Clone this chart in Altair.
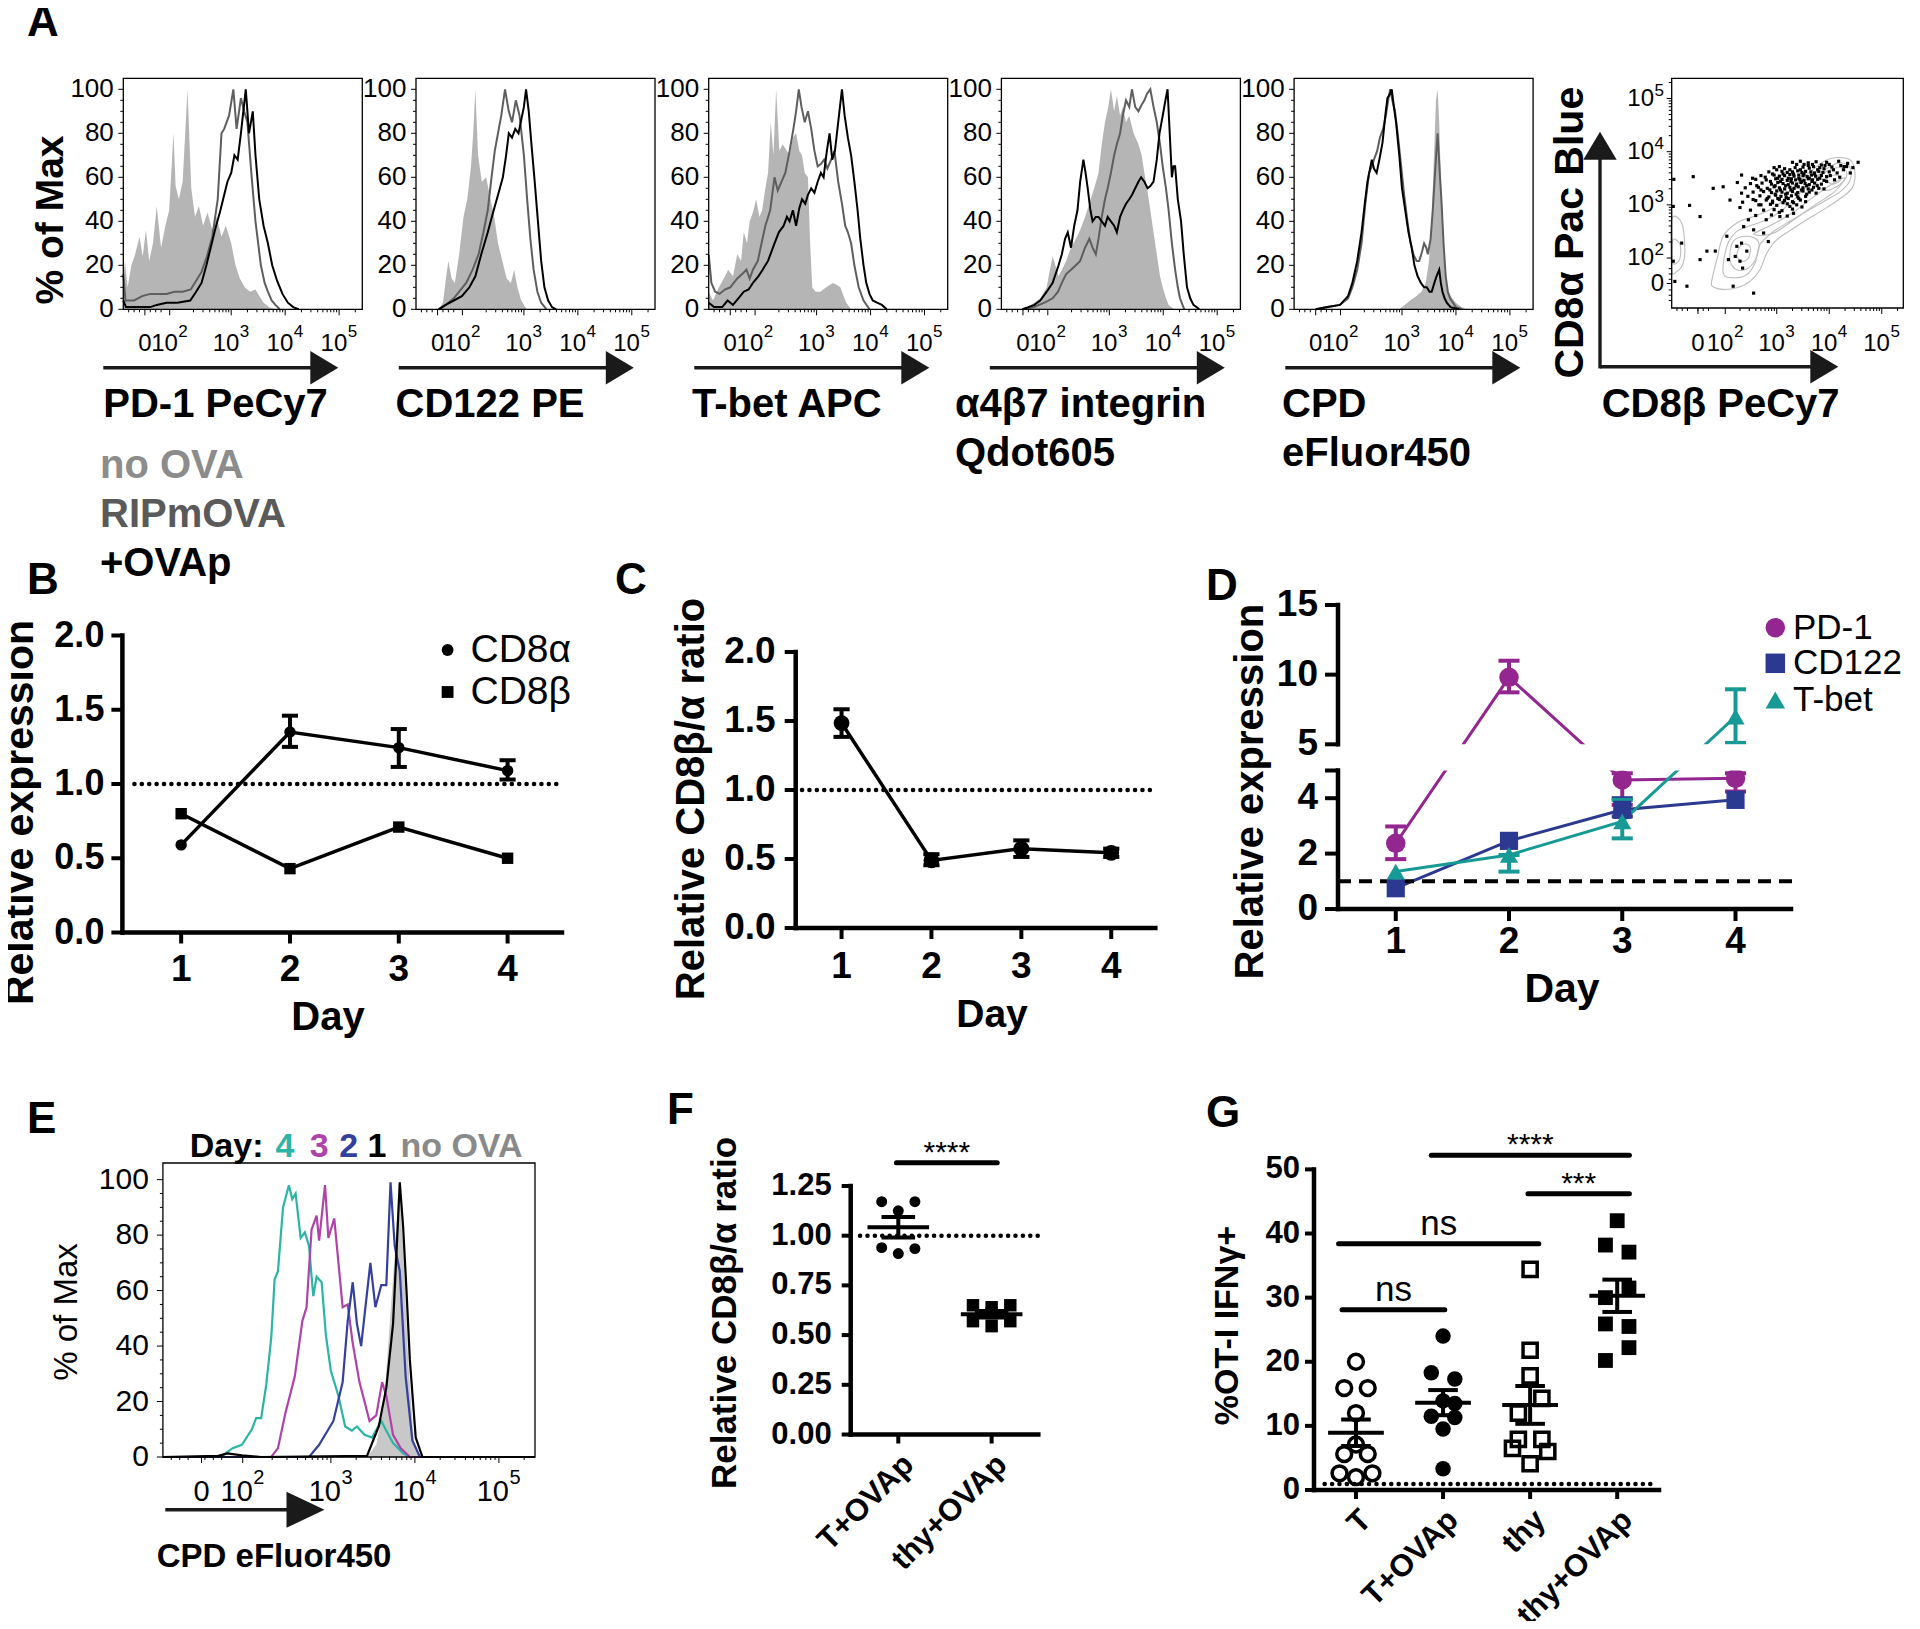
import math
import altair as alt
import pandas as pd

W, H = 1904, 1613


def X(v):
    return v - 8


def Y(v):
    return v - 8


SANS = "Liberation Sans, Arial, Helvetica, sans-serif"
ONE = pd.DataFrame({"k": [0]})

# ------------------------------------------------------------------ data
# A: flow histograms; x in display decades (about 1.4 = 0, 2 = 10^2 ... 5 = 10^5), y = % of max
PD1_NOOVA = [(1.0, 14), (1.03, 22), (1.08, 10), (1.15, 20), (1.22, 25), (1.3, 33), (1.36, 24), (1.42, 36), (1.48, 22),
             (1.55, 30), (1.62, 47), (1.7, 28), (1.78, 38), (1.85, 45), (1.93, 80), (1.97, 56), (2.03, 50), (2.1, 58),
             (2.19, 100), (2.26, 55), (2.33, 42), (2.4, 47), (2.48, 38), (2.56, 44), (2.65, 36), (2.73, 42), (2.82, 33),
             (2.9, 38), (3.0, 30), (3.08, 20), (3.16, 14), (3.25, 10), (3.35, 8), (3.45, 9), (3.52, 6), (3.6, 3),
             (3.7, 1), (3.8, 0)]
PD1_RIP = [(1.0, 16), (1.04, 4), (1.2, 4), (1.35, 6), (1.5, 7), (1.65, 7), (1.8, 7), (1.95, 8), (2.1, 8), (2.25, 9),
           (2.35, 13), (2.45, 17), (2.55, 24), (2.65, 33), (2.75, 50), (2.82, 80), (2.87, 82), (2.96, 88), (3.04, 100),
           (3.1, 82), (3.18, 96), (3.24, 90), (3.3, 85), (3.38, 60), (3.45, 40), (3.55, 20), (3.62, 12), (3.68, 8),
           (3.75, 4), (3.82, 2), (3.9, 0)]
PD1_OVAP = [(1.0, 4), (1.05, 1), (1.3, 1), (1.5, 1), (1.62, 2), (1.8, 3), (2.0, 3), (2.24, 4), (2.35, 8), (2.45, 12),
            (2.54, 20), (2.62, 28), (2.7, 36), (2.8, 45), (2.93, 58), (3.0, 62), (3.06, 70), (3.12, 68), (3.18, 80),
            (3.27, 100), (3.33, 80), (3.4, 90), (3.45, 70), (3.52, 50), (3.6, 38), (3.68, 30), (3.76, 20),
            (3.85, 13), (3.95, 7), (4.05, 3), (4.15, 1), (4.25, 0)]

CD122_NOOVA = [(1.42, 0), (1.5, 3), (1.56, 15), (1.6, 22), (1.66, 14), (1.72, 12), (1.8, 25), (1.88, 42), (1.95, 50),
               (2.02, 65), (2.06, 80), (2.1, 100), (2.15, 70), (2.22, 58), (2.3, 60), (2.38, 50), (2.45, 42),
               (2.52, 30), (2.6, 22), (2.68, 14), (2.76, 12), (2.82, 18), (2.88, 10), (2.95, 4), (3.05, 0)]
CD122_RIP = [(1.42, 0), (1.55, 2), (1.7, 5), (1.8, 8), (1.93, 12), (2.05, 18), (2.16, 25), (2.25, 35), (2.33, 45),
             (2.4, 60), (2.46, 72), (2.52, 80), (2.58, 88), (2.65, 100), (2.72, 90), (2.78, 85), (2.85, 95),
             (2.92, 88), (3.0, 70), (3.06, 50), (3.12, 32), (3.18, 18), (3.25, 8), (3.32, 3), (3.42, 0)]
CD122_OVAP = [(1.42, 0), (1.55, 2), (1.7, 4), (1.85, 6), (1.99, 10), (2.1, 15), (2.21, 25), (2.33, 35), (2.44, 45),
              (2.52, 52), (2.61, 60), (2.67, 70), (2.72, 80), (2.78, 78), (2.84, 82), (2.9, 80), (2.95, 86),
              (3.0, 92), (3.04, 100), (3.09, 90), (3.14, 75), (3.2, 58), (3.26, 40), (3.32, 22), (3.38, 10),
              (3.45, 4), (3.52, 1), (3.6, 0)]

TBET_NOOVA = [(1.0, 8), (1.08, 4), (1.19, 10), (1.28, 14), (1.36, 18), (1.45, 15), (1.53, 25), (1.6, 22), (1.65, 35),
              (1.71, 30), (1.76, 40), (1.82, 44), (1.88, 50), (1.94, 42), (1.99, 45), (2.05, 55), (2.1, 62),
              (2.15, 85), (2.2, 70), (2.25, 100), (2.31, 72), (2.37, 75), (2.45, 72), (2.5, 70), (2.56, 78),
              (2.62, 80), (2.68, 72), (2.73, 70), (2.78, 62), (2.84, 60), (2.88, 30), (2.92, 10), (2.98, 8),
              (3.07, 8), (3.18, 10), (3.3, 12), (3.38, 11), (3.44, 10), (3.5, 6), (3.55, 3), (3.64, 0)]
TBET_RIP = [(1.0, 25), (1.05, 12), (1.12, 8), (1.2, 7), (1.3, 9), (1.4, 10), (1.53, 14), (1.62, 16), (1.7, 18),
            (1.76, 14), (1.82, 18), (1.91, 22), (1.98, 30), (2.05, 38), (2.14, 45), (2.22, 60), (2.28, 54),
            (2.35, 58), (2.42, 62), (2.5, 72), (2.57, 82), (2.62, 90), (2.67, 100), (2.72, 92), (2.78, 85),
            (2.84, 90), (2.9, 82), (2.96, 72), (3.02, 65), (3.08, 66), (3.14, 68), (3.2, 64), (3.27, 68),
            (3.33, 72), (3.4, 58), (3.47, 48), (3.53, 38), (3.58, 35), (3.64, 30), (3.7, 20), (3.78, 10),
            (3.87, 4), (3.98, 0)]
TBET_OVAP = [(1.0, 3), (1.1, 1), (1.25, 1), (1.35, 4), (1.45, 2), (1.55, 5), (1.65, 8), (1.74, 9), (1.82, 12),
             (1.92, 15), (2.0, 18), (2.1, 22), (2.22, 30), (2.3, 35), (2.39, 38), (2.45, 42), (2.5, 40), (2.56, 45),
             (2.62, 38), (2.68, 46), (2.73, 50), (2.79, 48), (2.84, 52), (2.9, 55), (2.96, 53), (3.02, 58),
             (3.08, 62), (3.13, 60), (3.19, 72), (3.24, 80), (3.29, 68), (3.34, 72), (3.4, 85), (3.47, 100),
             (3.52, 88), (3.58, 78), (3.64, 70), (3.7, 58), (3.76, 45), (3.81, 32), (3.87, 20), (3.92, 12),
             (3.98, 7), (4.04, 4), (4.12, 3), (4.21, 2), (4.3, 0)]

A4B7_NOOVA = [(1.39, 0), (1.5, 1), (1.61, 3), (1.72, 5), (1.84, 10), (1.9, 18), (1.95, 24), (2.0, 20), (2.06, 15),
              (2.12, 18), (2.2, 22), (2.29, 28), (2.38, 32), (2.46, 36), (2.55, 42), (2.63, 48), (2.72, 55),
              (2.8, 62), (2.86, 75), (2.92, 85), (2.98, 92), (3.03, 100), (3.09, 90), (3.14, 97), (3.2, 88),
              (3.25, 92), (3.31, 85), (3.37, 88), (3.45, 80), (3.54, 75), (3.6, 70), (3.65, 62), (3.7, 55),
              (3.76, 45), (3.82, 35), (3.88, 25), (3.94, 15), (3.99, 10), (4.05, 5), (4.1, 2), (4.2, 0)]
A4B7_RIP = [(1.39, 0), (1.6, 1), (1.8, 3), (1.95, 5), (2.05, 8), (2.12, 12), (2.2, 16), (2.29, 18), (2.38, 20),
            (2.46, 22), (2.55, 28), (2.63, 32), (2.69, 28), (2.75, 25), (2.8, 32), (2.86, 42), (2.92, 50),
            (2.97, 55), (3.03, 62), (3.09, 70), (3.14, 75), (3.2, 80), (3.25, 88), (3.31, 95), (3.37, 92),
            (3.42, 100), (3.48, 92), (3.54, 90), (3.6, 93), (3.65, 95), (3.7, 98), (3.76, 100), (3.82, 92),
            (3.88, 85), (3.94, 75), (3.99, 65), (4.05, 55), (4.1, 45), (4.16, 30), (4.22, 18), (4.27, 10),
            (4.31, 5), (4.39, 0)]
A4B7_OVAP = [(1.39, 0), (1.5, 1), (1.61, 2), (1.72, 4), (1.84, 8), (1.95, 12), (2.06, 20), (2.12, 25), (2.18, 32),
             (2.23, 35), (2.29, 28), (2.35, 38), (2.41, 45), (2.46, 58), (2.52, 68), (2.56, 62), (2.6, 55),
             (2.65, 45), (2.69, 40), (2.75, 42), (2.8, 42), (2.86, 40), (2.92, 38), (2.97, 42), (3.03, 40),
             (3.09, 38), (3.14, 35), (3.2, 42), (3.25, 45), (3.31, 48), (3.37, 50), (3.42, 52), (3.48, 55),
             (3.54, 58), (3.59, 60), (3.65, 58), (3.71, 55), (3.76, 56), (3.82, 58), (3.88, 68), (3.93, 80),
             (3.99, 88), (4.04, 95), (4.08, 100), (4.12, 80), (4.16, 60), (4.19, 65), (4.22, 65), (4.27, 50),
             (4.33, 40), (4.38, 25), (4.44, 10), (4.5, 5), (4.56, 2), (4.67, 0)]

CPD_NOOVA = [(2.95, 0), (3.05, 2), (3.15, 4), (3.27, 6), (3.36, 8), (3.44, 12), (3.5, 22), (3.55, 40), (3.6, 75),
             (3.63, 95), (3.66, 100), (3.69, 85), (3.72, 60), (3.76, 30), (3.8, 15), (3.86, 8), (3.93, 5),
             (4.0, 3), (4.1, 1), (4.2, 0)]
CPD_RIP = [(1.4, 0), (1.62, 1), (1.85, 2), (2.0, 5), (2.08, 10), (2.17, 18), (2.25, 30), (2.32, 48), (2.39, 62),
           (2.44, 65), (2.48, 68), (2.54, 72), (2.59, 78), (2.65, 82), (2.7, 88), (2.75, 96), (2.78, 100),
           (2.82, 95), (2.87, 90), (2.92, 80), (2.98, 66), (3.04, 52), (3.1, 40), (3.16, 30), (3.21, 25),
           (3.27, 22), (3.32, 22), (3.37, 26), (3.41, 30), (3.45, 28), (3.48, 25), (3.53, 32), (3.57, 45),
           (3.62, 65), (3.66, 80), (3.7, 62), (3.73, 50), (3.77, 30), (3.81, 15), (3.85, 8), (3.89, 5), (4.0, 1),
           (4.12, 0)]
CPD_OVAP = [(1.4, 0), (1.62, 1), (1.85, 2), (2.0, 6), (2.08, 12), (2.17, 22), (2.25, 35), (2.31, 48), (2.36, 58),
            (2.44, 68), (2.48, 64), (2.53, 62), (2.58, 68), (2.64, 76), (2.69, 88), (2.73, 96), (2.78, 98),
            (2.81, 100), (2.85, 92), (2.89, 85), (2.95, 70), (3.0, 55), (3.06, 45), (3.12, 35), (3.18, 28),
            (3.23, 20), (3.29, 15), (3.35, 12), (3.41, 10), (3.46, 10), (3.51, 8), (3.55, 8), (3.6, 12),
            (3.64, 15), (3.69, 18), (3.72, 12), (3.75, 8), (3.79, 5), (3.83, 3), (3.9, 1), (4.06, 0)]

# A: CD8beta (x) vs CD8alpha (y) plot, display decades
SCATTER_DOTS = [
    (3.30, 3.80), (3.45, 3.82), (3.60, 3.79), (3.75, 3.81), (3.95, 3.80), (4.35, 3.78), (4.55, 3.80),
    (2.95, 3.70), (3.05, 3.72), (3.35, 3.70), (3.50, 3.71), (3.62, 3.69), (3.70, 3.72), (3.82, 3.70), (3.90, 3.68),
    (4.05, 3.71), (4.45, 3.70), (2.85, 3.62), (3.10, 3.63), (3.20, 3.61), (3.30, 3.62), (3.40, 3.64), (3.48, 3.61),
    (3.55, 3.63), (3.65, 3.62), (3.72, 3.60), (3.80, 3.63), (3.88, 3.61), (4.00, 3.62), (4.15, 3.60),
    (2.70, 3.55), (2.95, 3.56), (3.05, 3.54), (3.15, 3.55), (3.25, 3.57), (3.33, 3.54), (3.42, 3.56), (3.50, 3.55),
    (3.58, 3.53), (3.66, 3.56), (3.74, 3.54), (3.85, 3.55), (3.95, 3.53), (2.60, 3.48), (2.80, 3.47), (2.98, 3.49),
    (3.10, 3.48), (3.20, 3.46), (3.28, 3.49), (3.36, 3.47), (3.44, 3.48), (3.52, 3.46), (3.60, 3.49), (3.68, 3.47),
    (3.78, 3.48), (3.90, 3.46), (4.10, 3.47), (2.50, 3.40), (2.72, 3.41), (2.90, 3.39), (3.02, 3.42), (3.12, 3.40),
    (3.22, 3.38), (3.30, 3.41), (3.38, 3.39), (3.46, 3.42), (3.54, 3.40), (3.62, 3.38), (3.72, 3.41), (3.85, 3.39),
    (2.40, 3.32), (2.65, 3.33), (2.82, 3.31), (2.95, 3.34), (3.05, 3.32), (3.15, 3.30), (3.25, 3.33), (3.33, 3.31),
    (3.41, 3.34), (3.50, 3.32), (3.60, 3.30), (3.70, 3.33), (3.80, 3.31), (2.55, 3.24), (2.75, 3.25), (2.90, 3.23),
    (3.00, 3.26), (3.10, 3.24), (3.20, 3.22), (3.30, 3.25), (3.40, 3.23), (3.50, 3.26), (3.62, 3.24),
    (2.45, 3.16), (2.68, 3.17), (2.85, 3.15), (2.98, 3.18), (3.08, 3.16), (3.18, 3.14), (3.28, 3.17), (3.40, 3.15),
    (3.55, 3.16), (2.60, 3.08), (2.80, 3.09), (2.92, 3.07), (3.05, 3.10), (3.15, 3.08), (3.30, 3.06), (3.45, 3.09),
    (2.70, 3.00), (2.88, 3.01), (3.00, 2.99), (3.20, 3.02), (3.38, 3.00), (2.75, 2.90), (2.95, 2.91), (3.10, 2.89),
    (3.30, 2.92), (2.60, 2.80), (2.90, 2.81), (3.20, 2.79),
    (2.92, 3.58), (3.02, 3.50), (3.12, 3.58), (3.22, 3.50), (3.32, 3.58), (3.42, 3.50), (3.52, 3.58), (3.62, 3.50),
    (3.72, 3.58), (3.82, 3.50), (2.97, 3.36), (3.07, 3.44), (3.17, 3.36), (3.27, 3.44), (3.37, 3.36), (3.47, 3.44),
    (3.57, 3.36), (3.67, 3.44), (3.77, 3.36), (2.87, 3.28), (2.97, 3.20), (3.07, 3.28), (3.17, 3.20), (3.27, 3.28),
    (3.37, 3.20), (3.47, 3.28), (3.57, 3.20), (3.67, 3.28), (2.82, 3.12), (2.92, 3.04), (3.02, 3.12), (3.12, 3.04),
    (3.22, 3.12), (3.32, 3.04), (3.42, 3.12), (3.25, 3.66), (3.45, 3.66), (3.60, 3.74), (3.78, 3.66), (3.92, 3.74),
    (4.08, 3.66), (4.22, 3.74),
    (3.00, 3.66), (3.15, 3.68), (3.38, 3.76), (3.52, 3.76), (3.68, 3.76), (3.85, 3.75), (4.00, 3.76), (4.18, 3.82),
    (4.28, 3.72), (4.40, 3.60), (2.78, 3.52), (2.88, 3.44), (3.95, 3.44), (4.02, 3.55), (4.20, 3.52), (2.62, 3.36),
    (2.70, 3.28), (3.90, 3.30), (3.75, 3.22), (2.55, 3.10), (2.66, 3.00), (3.55, 3.06), (3.48, 2.96), (2.80, 2.72),
    (3.05, 2.86), (2.50, 2.90), (2.35, 3.05), (2.25, 3.42), (2.30, 2.95),
    (1.04, 3.48), (1.03, 2.97), (1.03, 1.94), (1.06, 1.56), (1.19, 2.28), (1.29, 1.47), (1.34, 2.99), (1.41, 3.53),
    (1.54, 2.78), (1.54, 1.97), (1.67, 2.13), (1.83, 2.13), (1.79, 3.31), (1.98, 3.34), (2.11, 3.09), (2.17, 1.47),
    (2.33, 3.56), (2.33, 3.22), (2.37, 2.59), (2.33, 2.28), (2.30, 1.94), (2.43, 2.13), (2.35, 1.81), (2.56, 1.34),
    (2.54, 3.50), (2.46, 2.72), (2.56, 2.53), (2.75, 2.47), (2.84, 2.31), (2.08, 1.97), (2.24, 2.22), (2.21, 2.03),
    (2.05, 2.41), (3.06, 2.78), (3.32, 2.84), (3.25, 2.97), (4.27, 3.66), (4.33, 3.72)]
SCATTER_CONTOURS = [
    [(1.76, 1.56), (1.86, 1.97), (1.98, 2.41), (2.24, 2.66), (2.56, 2.78), (2.81, 2.88), (3.06, 3.03), (3.32, 3.34),
     (3.60, 3.59), (3.89, 3.81), (4.14, 3.89), (4.40, 3.84), (4.49, 3.59), (4.43, 3.31), (4.17, 3.09), (3.89, 2.91),
     (3.57, 2.72), (3.32, 2.56), (3.00, 2.34), (2.81, 2.09), (2.68, 1.78), (2.49, 1.56), (2.24, 1.44), (1.98, 1.41),
     (1.79, 1.46)],
    [(1.98, 1.72), (2.05, 2.22), (2.24, 2.50), (2.56, 2.63), (2.87, 2.75), (3.19, 2.97), (3.51, 3.28), (3.83, 3.59),
     (4.14, 3.78), (4.38, 3.73), (4.40, 3.47), (4.21, 3.25), (3.89, 3.06), (3.57, 2.88), (3.25, 2.69), (2.94, 2.50),
     (2.68, 2.25), (2.59, 1.91), (2.43, 1.69), (2.17, 1.63)],
    [(2.56, 2.45), (2.90, 2.62), (3.30, 2.85), (3.70, 3.15), (4.10, 3.42), (4.30, 3.50), (4.10, 3.25), (3.70, 2.98),
     (3.30, 2.70), (2.90, 2.45)],
    [(2.11, 1.97), (2.17, 2.31), (2.43, 2.41), (2.65, 2.31), (2.62, 2.03), (2.46, 1.81), (2.24, 1.78)],
    [(2.24, 2.06), (2.33, 2.25), (2.49, 2.22), (2.46, 2.00), (2.33, 1.94)],
    [(3.76, 3.47), (4.02, 3.66), (4.27, 3.69), (4.33, 3.53), (4.14, 3.34), (3.89, 3.28)],
    [(3.95, 3.50), (4.14, 3.56), (4.21, 3.46), (4.05, 3.39)],
    [(1.00, 2.72), (1.19, 2.66), (1.25, 2.22), (1.22, 1.91), (1.10, 1.75), (1.00, 1.78)],
    [(1.02, 2.34), (1.16, 2.25), (1.15, 1.97), (1.02, 1.91)]]

# B: relative expression vs day
DAYS = [1, 2, 3, 4]
B_CD8A = [0.59, 1.35, 1.245, 1.09]
B_CD8A_LO = [0.59, 1.25, 1.115, 1.03]
B_CD8A_HI = [0.59, 1.46, 1.37, 1.16]
B_CD8B = [0.80, 0.43, 0.71, 0.50]
# C: CD8beta/alpha ratio vs day
C_RATIO = [1.485, 0.49, 0.575, 0.545]
C_LO = [1.385, 0.455, 0.515, 0.515]
C_HI = [1.585, 0.535, 0.635, 0.575]
# D: PD-1, CD122, T-bet vs day
D_PD1 = [2.37, 9.81, 4.66, 4.72]
D_PD1_LO = [1.80, 8.73, 3.76, 4.24]
D_PD1_HI = [2.98, 11.0, 4.90, 4.90]
D_CD122 = [0.75, 2.46, 3.58, 3.94]
D_CD122_LO = [0.75, 2.46, 3.34, 3.94]
D_CD122_HI = [0.75, 2.46, 4.00, 3.94]
D_TBET = [1.35, 1.95, 3.16, 6.99]
D_TBET_LO = [1.35, 1.35, 2.55, 5.10]
D_TBET_HI = [1.35, 1.95, 3.94, 8.95]

# E: CPD dilution histograms per day
E_DAY4 = [(1.0, 0), (1.69, 0), (1.83, 3.2), (1.94, 4.4), (2.06, 10), (2.11, 14), (2.17, 14), (2.23, 26), (2.29, 43),
          (2.33, 64), (2.37, 67), (2.43, 90), (2.5, 98), (2.54, 93), (2.58, 95), (2.64, 79), (2.69, 81), (2.74, 76),
          (2.79, 58), (2.83, 65), (2.89, 63), (2.94, 44), (3.0, 31), (3.09, 22), (3.17, 11), (3.25, 9.5),
          (3.31, 11), (3.4, 8), (3.49, 7), (3.6, 13), (3.66, 9.5), (3.74, 5), (3.86, 1.3), (3.94, 0), (5.43, 0)]
E_DAY3 = [(1.0, 0), (2.29, 0), (2.37, 3.2), (2.46, 16), (2.57, 29), (2.66, 49), (2.71, 54), (2.77, 82), (2.83, 87),
          (2.86, 78), (2.93, 98), (2.97, 79), (3.04, 86), (3.09, 70), (3.14, 54), (3.2, 55), (3.26, 41), (3.34, 27),
          (3.46, 13), (3.54, 15), (3.61, 27), (3.66, 22), (3.74, 8), (3.83, 3.2), (3.94, 0), (5.43, 0)]
E_DAY2 = [(1.0, 0), (2.74, 0), (2.86, 4.4), (3.03, 13), (3.14, 27), (3.2, 49), (3.26, 63), (3.31, 48), (3.36, 40),
          (3.4, 51), (3.47, 70), (3.53, 54), (3.6, 62), (3.66, 62), (3.71, 99), (3.76, 76), (3.82, 67), (3.89, 29),
          (3.97, 6), (4.06, 0), (5.43, 0)]
E_DAY1 = [(1.0, 0), (1.66, 0.4), (1.77, 1.3), (1.94, 0.6), (2.17, 0), (3.43, 0.4), (3.57, 11), (3.66, 25),
          (3.74, 48), (3.78, 73), (3.82, 99), (3.86, 83), (3.9, 60), (3.94, 35), (4.01, 7), (4.09, 0), (5.43, 0)]
E_NOOVA = [(3.43, 0), (3.54, 4.4), (3.63, 18), (3.7, 48), (3.76, 73), (3.81, 98), (3.86, 76), (3.92, 35),
           (3.99, 4.4), (4.06, 0)]

# F: CD8beta/alpha ratio per group (slot = side-by-side place of the dot in its column)
F_T_OVAP = [1.171, 1.171, 1.125, 0.940, 0.935, 0.910]
F_T_OVAP_SLOT = [-1, 1, 0, -1, 1, 0]
F_THY_OVAP = [0.650, 0.650, 0.640, 0.610, 0.570, 0.570, 0.545]
F_THY_OVAP_SLOT = [-1, 1, 0, 0, -1, 1, 0]
F_LABELS = ["T+OVAp", "thy+OVAp"]

# G: % OT-I IFNg+ per group
G_T = [20.0, 15.9, 15.9, 12.0, 7.1, 5.6, 5.6, 2.6, 2.6, 2.0]
G_T_SLOT = [0, -1, 1, 0, 0, -1, 1, -1.4, 1.4, 0]
G_T_OVAP = [24.0, 18.3, 17.3, 13.9, 13.5, 11.5, 11.3, 9.5, 3.3]
G_T_OVAP_SLOT = [0, -1, 1, 0, 1, -1, 1, 0, 0]
G_THY = [34.4, 21.8, 17.8, 14.3, 12.0, 7.9, 7.9, 6.5, 6.0, 4.1]
G_THY_SLOT = [0, 0, 0, 1, -1, -1, 1, -1.5, 1.5, 0]
G_THY_OVAP = [42.0, 38.2, 37.1, 31.5, 30.0, 25.9, 25.5, 22.2, 20.2]
G_THY_OVAP_SLOT = [0, -1, 1, 1, -1, -1, 1, 1, -1]
G_LABELS = ["T", "T+OVAp", "thy", "thy+OVAp"]
G_SIG = [(0.84, 2.02, 28.1, "ns"), (0.80, 3.10, 38.4, "ns"), (1.865, 4.14, 52.2, "****"), (2.975, 4.14, 46.2, "***")]
F_SIG = [(0.98, 2.06, 1.367, "****")]

# tick labels
DECADE_EXPONENTS = ["2", "3", "4", "5"]
FLOW_Y_TICKS = [0, 20, 40, 60, 80, 100]


# ------------------------------------------------------------------ helpers
def curve_df(pts):
    return pd.DataFrame({"u": [p[0] for p in pts], "p": [p[1] for p in pts], "z": [0] * len(pts),
                         "i": list(range(len(pts)))})


def sx(domain, a, b):
    return alt.Scale(domain=domain, range=[X(a), X(b)], nice=False, zero=False)


def sy(domain, bottom, top):
    return alt.Scale(domain=domain, range=[Y(bottom), Y(top)], nice=False, zero=False)


def txt(s, x, y, size, weight="bold", color="black", font=SANS, align="left", baseline="alphabetic", angle=0):
    return alt.Chart(ONE).mark_text(text=s, font=font, fontSize=size, fontWeight=weight, color=color,
                                    align=align, baseline=baseline, angle=angle).encode(
        x=alt.value(X(x)), y=alt.value(Y(y)))


def vtitle(s, x, y, size, weight="bold"):
    return txt(s, x, y, size, weight=weight, align="center", baseline="middle", angle=270)


def harrow(x0, tip, y, head_len=28.0, half=16.7, lw=3.4):
    a = head_len / (2 * half)
    path = "M %.3f -1 L %.3f 0 L %.3f 1 Z" % (-a, a, -a)
    line = alt.Chart(ONE).mark_rule(color="#1a1a1a", strokeWidth=lw).encode(
        x=alt.value(X(x0)), x2=alt.value(X(tip - head_len + 2)), y=alt.value(Y(y)))
    head = alt.Chart(ONE).mark_point(shape=path, filled=True, size=(2 * half) ** 2, color="#1a1a1a",
                                     opacity=1, strokeWidth=0).encode(
        x=alt.value(X(tip - head_len / 2)), y=alt.value(Y(y)))
    return [line, head]


def varrow(x, y0, tip, head_len=28.0, half=16.7, lw=3.4):
    a = head_len / (2 * half)
    path = "M -1 %.3f L 0 %.3f L 1 %.3f Z" % (a, -a, a)
    line = alt.Chart(ONE).mark_rule(color="#1a1a1a", strokeWidth=lw).encode(
        x=alt.value(X(x)), y=alt.value(Y(y0 + lw / 2)), y2=alt.value(Y(tip + head_len - 2)))
    head = alt.Chart(ONE).mark_point(shape=path, filled=True, size=(2 * half) ** 2, color="#1a1a1a",
                                     opacity=1, strokeWidth=0).encode(
        x=alt.value(X(x)), y=alt.value(Y(tip + head_len / 2)))
    return [line, head]


def yticks(ys, axis_x, major, tick, tw, minor=None, mtick=3):
    out = [alt.Chart(pd.DataFrame({"v": major})).mark_rule(color="black", strokeWidth=tw).encode(
        y=alt.Y("v:Q", scale=ys, axis=None), x=alt.value(X(axis_x - tick)), x2=alt.value(X(axis_x)))]
    if minor:
        out.append(alt.Chart(pd.DataFrame({"v": minor})).mark_rule(color="black", strokeWidth=tw).encode(
            y=alt.Y("v:Q", scale=ys, axis=None), x=alt.value(X(axis_x - mtick)), x2=alt.value(X(axis_x))))
    return out


def xticks(xs, axis_y, major, tick, tw, minor=None, mtick=3):
    out = [alt.Chart(pd.DataFrame({"v": major})).mark_rule(color="black", strokeWidth=tw).encode(
        x=alt.X("v:Q", scale=xs, axis=None), y=alt.value(Y(axis_y)), y2=alt.value(Y(axis_y + tick)))]
    if minor:
        out.append(alt.Chart(pd.DataFrame({"v": minor})).mark_rule(color="black", strokeWidth=tw).encode(
            x=alt.X("v:Q", scale=xs, axis=None), y=alt.value(Y(axis_y)), y2=alt.value(Y(axis_y + mtick))))
    return out


def yaxis(ys, axis_x, major, labels, size, pad, tick, tw, weight="bold", minor=None, mtick=3,
          domain=None, dw=4.5):
    df = pd.DataFrame({"v": major, "lab": labels})
    out = yticks(ys, axis_x, major, tick, tw, minor, mtick)
    out.append(alt.Chart(df[df["lab"] != ""]).mark_text(
        align="right", baseline="middle", font=SANS, fontSize=size, fontWeight=weight, color="black").encode(
        y=alt.Y("v:Q", scale=ys, axis=None), x=alt.value(X(axis_x - tick - pad)), text="lab:N"))
    if domain is not None:
        out.append(alt.Chart(ONE).mark_rule(color="black", strokeWidth=dw, strokeCap="square").encode(
            x=alt.value(X(axis_x)), y=alt.YDatum(domain[0], scale=ys, axis=None), y2=alt.Y2Datum(domain[1])))
    return out


def xaxis(xs, axis_y, major, labels, size, pad, tick, tw, weight="bold", domain=None, dw=4.5, angle=0):
    df = pd.DataFrame({"v": major, "lab": labels})
    out = xticks(xs, axis_y, major, tick, tw)
    if angle:
        tm = alt.Chart(df).mark_text(
            align="right", baseline="top", angle=angle, font=SANS, fontSize=size, fontWeight=weight, color="black")
    else:
        tm = alt.Chart(df).mark_text(
            align="center", baseline="top", font=SANS, fontSize=size, fontWeight=weight, color="black")
    out.append(tm.encode(x=alt.X("v:Q", scale=xs, axis=None), y=alt.value(Y(axis_y + tick + pad)), text="lab:N"))
    if domain is not None:
        out.append(alt.Chart(ONE).mark_rule(color="black", strokeWidth=dw, strokeCap="square").encode(
            y=alt.value(Y(axis_y)), x=alt.XDatum(domain[0], scale=xs, axis=None), x2=alt.X2Datum(domain[1])))
    return out


def decade_xlabels(xs, top, zero_at, ten_at, size, sup, raise_px):
    """'0' and 10^n labels under a flow axis, exponent drawn as a raised smaller number."""
    shift = 0.556 * sup / 2 + 0.5
    zero = alt.Chart(pd.DataFrame({"v": [zero_at], "lab": ["0"]})).mark_text(
        align="center", baseline="top", font=SANS, fontSize=size, color="black").encode(
        x=alt.X("v:Q", scale=xs, axis=None), y=alt.value(Y(top)), text="lab:N")
    df = pd.DataFrame({"v": ten_at, "e": DECADE_EXPONENTS})
    base = alt.Chart(df).mark_text(text="10", align="center", baseline="top", font=SANS, fontSize=size,
                                   color="black", dx=-shift).encode(
        x=alt.X("v:Q", scale=xs, axis=None), y=alt.value(Y(top)))
    expo = alt.Chart(df).mark_text(align="left", baseline="top", font=SANS, fontSize=sup, color="black",
                                   dx=1.112 * size / 2 - shift + 0.5).encode(
        x=alt.X("v:Q", scale=xs, axis=None), y=alt.value(Y(top - raise_px)), text="e:N")
    return [zero, base, expo]


def decade_ylabels(ys, right, zero_at, ten_at, size, sup, raise_px):
    supw = 0.556 * sup + 0.5
    zero = alt.Chart(pd.DataFrame({"v": [zero_at], "lab": ["0"]})).mark_text(
        align="right", baseline="middle", font=SANS, fontSize=size, color="black").encode(
        y=alt.Y("v:Q", scale=ys, axis=None), x=alt.value(X(right)), text="lab:N")
    df = pd.DataFrame({"v": ten_at, "e": DECADE_EXPONENTS})
    base = alt.Chart(df).mark_text(text="10", align="right", baseline="middle", font=SANS, fontSize=size,
                                   color="black").encode(
        y=alt.Y("v:Q", scale=ys, axis=None), x=alt.value(X(right - supw)))
    expo = alt.Chart(df).mark_text(align="right", baseline="middle", font=SANS, fontSize=sup, color="black",
                                   dy=-raise_px).encode(
        y=alt.Y("v:Q", scale=ys, axis=None), x=alt.value(X(right)), text="e:N")
    return [zero, base, expo]


FLOW_MINOR = [1.1, 1.2, 1.3, 1.5, 1.6, 1.7] + \
    [round(d + math.log10(k), 4) for d in (2, 3, 4) for k in range(2, 10)] + [round(5 + math.log10(2), 4)]
FLOW_Y_MINOR = [v for v in range(5, 100, 5) if v % 20 != 0]


def frame(xs, ys, xd, yd):
    return alt.Chart(ONE).mark_rect(filled=False, color="black", strokeWidth=1.3).encode(
        x=alt.XDatum(xd[0], scale=xs, axis=None), x2=alt.X2Datum(xd[1]),
        y=alt.YDatum(yd[0], scale=ys, axis=None), y2=alt.Y2Datum(yd[1]))


def series_parts(days, val, lo, hi, xs, ys, color, shape, size, cap, lw, ew=4):
    df = pd.DataFrame({"d": days, "v": val, "lo": lo, "hi": hi})
    base = alt.Chart(df)
    line = base.mark_line(color=color, strokeWidth=lw).encode(
        x=alt.X("d:Q", scale=xs, axis=None), y=alt.Y("v:Q", scale=ys, axis=None))
    errd = base.transform_filter("datum.hi > datum.lo + 0.001")
    err = errd.mark_rule(color=color, strokeWidth=ew).encode(
        x=alt.X("d:Q", scale=xs, axis=None), y=alt.Y("lo:Q", scale=ys, axis=None), y2="hi:Q")
    caps = errd.transform_fold(["lo", "hi"], as_=["k", "e"]).transform_calculate(
        c1="datum.d - %g" % cap, c2="datum.d + %g" % cap).mark_rule(color=color, strokeWidth=ew).encode(
        x=alt.X("c1:Q", scale=xs, axis=None), x2="c2:Q", y=alt.Y("e:Q", scale=ys, axis=None))
    pts = base.mark_point(shape=shape, filled=True, size=size, color=color, opacity=1, strokeWidth=0).encode(
        x=alt.X("d:Q", scale=xs, axis=None), y=alt.Y("v:Q", scale=ys, axis=None))
    return line, err, caps, pts


def group_df(groups):
    rows = []
    for idx, (vals, slots) in enumerate(groups, start=1):
        for v, s in zip(vals, slots):
            rows.append({"idx": idx, "v": v, "slot": s})
    return pd.DataFrame(rows)


def dots(df, idx, xs, ys, shape, filled, size, w, sw=3.5):
    return alt.Chart(df).transform_filter("datum.idx == %d" % idx).transform_calculate(
        pos="datum.idx + datum.slot * %g" % w).mark_point(
        shape=shape, filled=filled, size=size, color="black", opacity=1,
        strokeWidth=(0 if filled else sw)).encode(
        x=alt.X("pos:Q", scale=xs, axis=None), y=alt.Y("v:Q", scale=ys, axis=None))


def mean_sem(df, xs, ys, half_mean, half_cap, lw=4):
    agg = alt.Chart(df).transform_aggregate(m="mean(v)", s="stderr(v)", groupby=["idx"]).transform_calculate(
        lo="datum.m - datum.s", hi="datum.m + datum.s",
        a="datum.idx - %g" % half_mean, b="datum.idx + %g" % half_mean,
        c="datum.idx - %g" % half_cap, e="datum.idx + %g" % half_cap)
    out = [agg.mark_rule(color="black", strokeWidth=lw).encode(
        x=alt.X("a:Q", scale=xs, axis=None), x2="b:Q", y=alt.Y("m:Q", scale=ys, axis=None)),
        agg.mark_rule(color="black", strokeWidth=lw).encode(
        x=alt.X("idx:Q", scale=xs, axis=None), y=alt.Y("lo:Q", scale=ys, axis=None), y2="hi:Q")]
    for f in ("lo", "hi"):
        out.append(agg.mark_rule(color="black", strokeWidth=lw).encode(
            x=alt.X("c:Q", scale=xs, axis=None), x2="e:Q", y=alt.Y(f + ":Q", scale=ys, axis=None)))
    return out


def sig_layers(sig, xs, ys, ns_size=35, star_size=30):
    df = pd.DataFrame({"x1": [s[0] for s in sig], "x2": [s[1] for s in sig], "y": [s[2] for s in sig],
                       "lab": [s[3] for s in sig]})
    base = alt.Chart(df).transform_calculate(mid="(datum.x1 + datum.x2) / 2")
    bar = base.mark_rule(color="black", strokeWidth=5, strokeCap="round").encode(
        x=alt.X("x1:Q", scale=xs, axis=None), x2="x2:Q", y=alt.Y("y:Q", scale=ys, axis=None))
    ns = base.transform_filter("datum.lab == 'ns'").mark_text(
        font=SANS, fontSize=ns_size, baseline="alphabetic", dy=-9, color="black").encode(
        x=alt.X("mid:Q", scale=xs, axis=None), y=alt.Y("y:Q", scale=ys, axis=None), text="lab:N")
    st = base.transform_filter("datum.lab != 'ns'").mark_text(
        font=SANS, fontSize=star_size, baseline="alphabetic", dy=-1, color="black").encode(
        x=alt.X("mid:Q", scale=xs, axis=None), y=alt.Y("y:Q", scale=ys, axis=None), text="lab:N")
    return [bar, ns, st]


def dotted(xs, ys, x1, x2, yv, dash=(0.1, 7.3), width=4.5):
    return alt.Chart(ONE).mark_rule(strokeDash=list(dash), strokeCap="round", strokeWidth=width,
                                    color="black").encode(
        x=alt.XDatum(x1, scale=xs, axis=None), x2=alt.X2Datum(x2), y=alt.YDatum(yv, scale=ys, axis=None))


def fmt(vals, f):
    return [format(v, f) for v in vals]


layers = []

# ------------------------------------------------------------------ A: histograms
FLOW_LEFTS = [123.3, 416.0, 708.7, 1001.4, 1294.1]
FLOW_W = 239.0
FLOW_TOP, FLOW_BOT = 78.3, 309.3
FLOW_XD = [1.0, 5.43]
FLOW_YD = [0, 105]
FLOW_TEN = [1.86, 3, 4, 5]
FLOW_SETS = [
    (PD1_NOOVA, PD1_RIP, PD1_OVAP),
    (CD122_NOOVA, CD122_RIP, CD122_OVAP),
    (TBET_NOOVA, TBET_RIP, TBET_OVAP),
    (A4B7_NOOVA, A4B7_RIP, A4B7_OVAP),
    (CPD_NOOVA, CPD_RIP, CPD_OVAP),
]
for i, (fill_pts, rip_pts, ovap_pts) in enumerate(FLOW_SETS):
    left = FLOW_LEFTS[i]
    xs = sx(FLOW_XD, left, left + FLOW_W)
    ys = sy(FLOW_YD, FLOW_BOT, FLOW_TOP)
    area = alt.Chart(curve_df(fill_pts)).mark_area(color="#B5B5B5", opacity=1).encode(
        x=alt.X("u:Q", scale=xs, axis=None), y=alt.Y("p:Q", scale=ys, axis=None), y2="z:Q")
    l1 = alt.Chart(curve_df(rip_pts)).mark_line(color="#5E5E5E", strokeWidth=2).encode(
        x=alt.X("u:Q", scale=xs, axis=None), y=alt.Y("p:Q", scale=ys, axis=None), order=alt.Order("i:Q"))
    l2 = alt.Chart(curve_df(ovap_pts)).mark_line(color="black", strokeWidth=2).encode(
        x=alt.X("u:Q", scale=xs, axis=None), y=alt.Y("p:Q", scale=ys, axis=None), order=alt.Order("i:Q"))
    layers.append(alt.layer(
        area, l1, l2, frame(xs, ys, FLOW_XD, FLOW_YD),
        *xticks(xs, FLOW_BOT, [1.4] + FLOW_TEN, 6, 1, minor=FLOW_MINOR),
        *decade_xlabels(xs, 331.5, 1.4, FLOW_TEN, 24, 17, 8),
        *yaxis(ys, left, FLOW_Y_TICKS, [str(v) for v in FLOW_Y_TICKS], 26, 4.5, 5, 1, weight="normal",
               minor=FLOW_Y_MINOR)))

# A: contour / dot plot
SC_XD = [1.0, 5.41]
SC_YD = [1.06, 5.38]
sc_xs = sx(SC_XD, 1671.7, 1903.3)
sc_ys = sy(SC_YD, 308.0, 78.3)
cont_rows = []
for cid, poly in enumerate(SCATTER_CONTOURS):
    for j, (a, b) in enumerate(poly):
        cont_rows.append({"cid": cid, "i": j, "u": a, "w": b})
cont = alt.Chart(pd.DataFrame(cont_rows)).mark_line(color="#BDBDBD", strokeWidth=1.1,
                                                    interpolate="cardinal-closed").encode(
    x=alt.X("u:Q", scale=sc_xs, axis=None), y=alt.Y("w:Q", scale=sc_ys, axis=None),
    detail=alt.Detail("cid:N"), order=alt.Order("i:Q"))
sdots = alt.Chart(pd.DataFrame({"u": [p[0] for p in SCATTER_DOTS], "w": [p[1] for p in SCATTER_DOTS]})).mark_point(
    shape="square", filled=True, size=10, color="black", opacity=1, strokeWidth=0).encode(
    x=alt.X("u:Q", scale=sc_xs, axis=None), y=alt.Y("w:Q", scale=sc_ys, axis=None))
sc_minor_y = [1.2, 1.3, 1.4, 1.6, 1.7, 1.8] + \
    [round(d + math.log10(k), 4) for d in (2, 3, 4) for k in range(2, 10)] + [round(5 + math.log10(2), 4)]
SC_TEN_X = [2.02, 3, 4, 5]
SC_TEN_Y = [2, 3, 4, 5]
layers.append(alt.layer(
    cont, sdots, frame(sc_xs, sc_ys, SC_XD, SC_YD),
    *xticks(sc_xs, 308.0, [1.5] + SC_TEN_X, 6, 1, minor=FLOW_MINOR),
    *decade_xlabels(sc_xs, 331.5, 1.5, SC_TEN_X, 24, 17, 8),
    *yticks(sc_ys, 1671.7, [1.52] + SC_TEN_Y, 5, 1, minor=sc_minor_y),
    *decade_ylabels(sc_ys, 1664.0, 1.52, SC_TEN_Y, 24, 17, 8)))

# ------------------------------------------------------------------ B
b_xs = sx([0.46, 4.5], 122.4, 562.0)
b_ys = sy([0, 2], 932.5, 635.5)
ba = series_parts(DAYS, B_CD8A, B_CD8A_LO, B_CD8A_HI, b_xs, b_ys, "black", "circle", 130, 0.074, 3.5)
bb = series_parts(DAYS, B_CD8B, B_CD8B, B_CD8B, b_xs, b_ys, "black", "square", 130, 0.074, 3.5)
layers.append(alt.layer(
    ba[0], bb[0], dotted(b_xs, b_ys, 0.57, 4.5, 1.0), ba[1], ba[2], ba[3], bb[3],
    *xaxis(b_xs, 932.5, DAYS, fmt(DAYS, "d"), 37, 8, 11, 4, domain=[0.46, 4.5]),
    *yaxis(b_ys, 122.4, [0, 0.5, 1.0, 1.5, 2.0], fmt([0, 0.5, 1.0, 1.5, 2.0], ".1f"), 36, 7, 11, 4,
           domain=[0, 2])))

# ------------------------------------------------------------------ C
c_xs = sx([0.49, 4.49], 795.7, 1155.3)
c_ys = sy([0, 2], 928.0, 652.0)
cc = series_parts(DAYS, C_RATIO, C_LO, C_HI, c_xs, c_ys, "black", "circle", 250, 0.09, 3.5)
layers.append(alt.layer(
    cc[0], dotted(c_xs, c_ys, 0.56, 4.46, 1.0), cc[1], cc[2], cc[3],
    *xaxis(c_xs, 928.0, DAYS, fmt(DAYS, "d"), 37, 10, 11, 4, domain=[0.49, 4.49]),
    *yaxis(c_ys, 795.7, [0, 0.5, 1.0, 1.5, 2.0], fmt([0, 0.5, 1.0, 1.5, 2.0], ".1f"), 37, 9, 11, 4,
           domain=[0, 2])))

# ------------------------------------------------------------------ D (broken y axis)
PURPLE, NAVY, TEAL = "#93278F", "#2B3990", "#179A95"
d_xs = sx([0.49, 4.49], 1338.0, 1791.0)
d_ys = alt.Scale(domain=[0, 5, 5, 15], range=[Y(909.0), Y(770.5), Y(744.3), Y(605.0)], nice=False, zero=False)
dp = series_parts(DAYS, D_PD1, D_PD1_LO, D_PD1_HI, d_xs, d_ys, PURPLE, "circle", 380, 0.093, 3)
dc = series_parts(DAYS, D_CD122, D_CD122_LO, D_CD122_HI, d_xs, d_ys, NAVY, "square", 330, 0.093, 3)
dt = series_parts(DAYS, D_TBET, D_TBET_LO, D_TBET_HI, d_xs, d_ys, TEAL, "triangle-up", 330, 0.093, 3)
d_gap = alt.Chart(ONE).mark_rect(color="white").encode(
    x=alt.XDatum(0.53, scale=d_xs, axis=None), x2=alt.X2Datum(4.6),
    y=alt.YDatum(4.9999, scale=d_ys, axis=None), y2=alt.Y2Datum(5.0))
d_dash = alt.Chart(ONE).mark_rule(strokeDash=[13, 8], strokeWidth=4, color="black").encode(
    x=alt.XDatum(0.49, scale=d_xs, axis=None), x2=alt.X2Datum(4.5), y=alt.YDatum(1.0, scale=d_ys, axis=None))
D_YT = [0, 2, 4, 4.9999, 5, 10, 15]
layers.append(alt.layer(
    dp[0], dc[0], dt[0], d_dash, dp[1], dp[2], dc[1], dc[2], dt[1], dt[2], dc[3], dt[3], dp[3], d_gap,
    *xaxis(d_xs, 909.0, DAYS, fmt(DAYS, "d"), 37, 3, 12, 4, domain=[0.49, 4.49]),
    *yaxis(d_ys, 1338.0, D_YT, ["0", "2", "4", "", "5", "10", "15"], 37, 7, 13, 4, domain=[0, 4.9999]),
    alt.Chart(ONE).mark_rule(color="black", strokeWidth=4.5, strokeCap="square").encode(
        x=alt.value(X(1338.0)), y=alt.YDatum(5, scale=d_ys, axis=None), y2=alt.Y2Datum(15))))

# ------------------------------------------------------------------ E
E_TEAL, E_MAG, E_BLUE, E_GREY = "#2CB5A6", "#B043A8", "#34409E", "#8A8A8A"
e_xd = [1.0, 5.43]
e_yd = [0, 106]
e_xs = sx(e_xd, 162.9, 535.0)
e_ys = sy(e_yd, 1457.0, 1163.0)
E_TEN = [1.95, 3, 4, 5]
e_fill = alt.Chart(curve_df(E_NOOVA)).mark_area(color="#C8C8C8", opacity=1).encode(
    x=alt.X("u:Q", scale=e_xs, axis=None), y=alt.Y("p:Q", scale=e_ys, axis=None), y2="z:Q")
e_lines = []
for pts, col in ((E_DAY4, E_TEAL), (E_DAY3, E_MAG), (E_DAY2, E_BLUE), (E_DAY1, "black")):
    e_lines.append(alt.Chart(curve_df(pts)).mark_line(color=col, strokeWidth=2.2).encode(
        x=alt.X("u:Q", scale=e_xs, axis=None), y=alt.Y("p:Q", scale=e_ys, axis=None), order=alt.Order("i:Q")))
layers.append(alt.layer(
    e_fill, *e_lines, frame(e_xs, e_ys, e_xd, e_yd),
    *xticks(e_xs, 1457.0, [1.46] + E_TEN, 6, 1, minor=FLOW_MINOR),
    *decade_xlabels(e_xs, 1478.0, 1.46, E_TEN, 29, 20, 10),
    *yaxis(e_ys, 162.9, FLOW_Y_TICKS, [str(v) for v in FLOW_Y_TICKS], 30, 8, 6, 1, weight="normal",
           minor=FLOW_Y_MINOR)))

# ------------------------------------------------------------------ F
f_df = group_df([(F_T_OVAP, F_T_OVAP_SLOT), (F_THY_OVAP, F_THY_OVAP_SLOT)])
f_xs = sx([0.49, 2.5], 850.7, 1038.3)
f_ys = sy([0, 1.25], 1434.5, 1186.0)
F_YT = [0, 0.25, 0.5, 0.75, 1.0, 1.25]
layers.append(alt.layer(
    dots(f_df, 1, f_xs, f_ys, "circle", True, 120, 0.178),
    dots(f_df, 2, f_xs, f_ys, "square", True, 155, 0.2),
    dotted(f_xs, f_ys, 0.59, 2.52, 1.0),
    *mean_sem(f_df, f_xs, f_ys, 0.33, 0.18),
    *sig_layers(F_SIG, f_xs, f_ys),
    *xaxis(f_xs, 1434.5, [1, 2], F_LABELS, 31, 6, 9, 4, angle=315, domain=[0.49, 2.5]),
    *yaxis(f_ys, 850.7, F_YT, fmt(F_YT, ".2f"), 31, 10, 9, 4, domain=[0, 1.25])))

# ------------------------------------------------------------------ G
g_df = group_df([(G_T, G_T_SLOT), (G_T_OVAP, G_T_OVAP_SLOT), (G_THY, G_THY_SLOT), (G_THY_OVAP, G_THY_OVAP_SLOT)])
g_xs = sx([0.518, 4.48], 1314.0, 1659.0)
g_ys = sy([0, 50], 1490.0, 1169.4)
G_YT = [0, 10, 20, 30, 40, 50]
layers.append(alt.layer(
    dotted(g_xs, g_ys, 0.64, 4.45, 0.93),
    dots(g_df, 1, g_xs, g_ys, "circle", False, 220, 0.135),
    dots(g_df, 2, g_xs, g_ys, "circle", True, 240, 0.135),
    dots(g_df, 3, g_xs, g_ys, "square", False, 200, 0.135),
    dots(g_df, 4, g_xs, g_ys, "square", True, 220, 0.135),
    *mean_sem(g_df, g_xs, g_ys, 0.32, 0.17),
    *sig_layers(G_SIG, g_xs, g_ys),
    *xaxis(g_xs, 1490.0, [1, 2, 3, 4], G_LABELS, 31, 6, 9, 4, angle=315, domain=[0.518, 4.48]),
    *yaxis(g_ys, 1314.0, G_YT, fmt(G_YT, "d"), 31, 5, 9, 4, domain=[0, 50])))

# ------------------------------------------------------------------ titles and annotations
for letter, lx, ly in (("A", 27, 36), ("B", 27, 594), ("C", 615, 594), ("D", 1206, 600), ("E", 27, 1133),
                       ("F", 667, 1124), ("G", 1206, 1127)):
    layers.append(txt(letter, lx, ly, 44))

# A axis names
layers.append(vtitle("% of Max", 51.4, 220, 39))
for name, nx in (("PD-1 PeCy7", 103.3), ("CD122 PE", 395.5), ("T-bet APC", 692.0), ("α4β7 integrin", 955.0),
                 ("CPD", 1282.0), ("CD8β PeCy7", 1601.7)):
    layers.append(txt(name, nx, 416.7, 40))
layers.append(txt("Qdot605", 955.0, 465.5, 40))
layers.append(txt("eFluor450", 1282.0, 465.5, 40))
layers.append(vtitle("CD8α Pac Blue", 1571, 232.7, 41))

# A legend
layers.append(txt("no OVA", 100, 477.6, 40, color="#8C8C8C"))
layers.append(txt("RIPmOVA", 100, 527, 40, color="#5A5A5A"))
layers.append(txt("+OVAp", 100, 575.5, 40))

for i in range(5):
    x0 = 103.3 + 295.5 * i
    layers += harrow(x0, x0 + 235, 367.7)
layers += harrow(1600, 1838.3, 366.7)
layers += varrow(1600, 366.7, 131.7)
layers += harrow(165.3, 324.5, 1509.8, head_len=38, half=18)

# B, C, D titles
layers.append(vtitle("Relative expression", 20.8, 812.5, 41))
layers.append(txt("Day", 328, 1030, 40, align="center"))
layers.append(vtitle("Relative CD8β/α ratio", 691.8, 799, 40))
layers.append(txt("Day", 992, 1026.5, 39, align="center"))
layers.append(vtitle("Relative expression", 1251.4, 791.6, 40))
layers.append(txt("Day", 1562, 1002, 41, align="center"))

# B legend
layers.append(alt.Chart(ONE).mark_point(shape="circle", filled=True, size=140, color="black", opacity=1).encode(
    x=alt.value(X(447.6)), y=alt.value(Y(650))))
layers.append(alt.Chart(ONE).mark_point(shape="square", filled=True, size=140, color="black", opacity=1).encode(
    x=alt.value(X(447.6)), y=alt.value(Y(692))))
layers.append(txt("CD8α", 470.5, 650, 39, weight="normal", baseline="middle"))
layers.append(txt("CD8β", 470.5, 692, 39, weight="normal", baseline="middle"))

# D legend
for shp, col, ly, lab in (("circle", PURPLE, 627.7, "PD-1"), ("square", NAVY, 663.3, "CD122"),
                          ("triangle-up", TEAL, 700, "T-bet")):
    layers.append(alt.Chart(ONE).mark_point(shape=shp, filled=True, size=380, color=col, opacity=1,
                                            strokeWidth=0).encode(x=alt.value(X(1775.3)), y=alt.value(Y(ly))))
    layers.append(txt(lab, 1793, ly, 35, weight="normal", baseline="middle"))

# E header and titles
for s, hx, col in (("Day:", 189.8, "black"), ("4", 275.5, E_TEAL), ("3", 309.8, E_MAG), ("2", 339.2, E_BLUE),
                   ("1", 367.4, "black"), ("no OVA", 400.4, E_GREY)):
    layers.append(txt(s, hx, 1157, 34, color=col))
layers.append(vtitle("% of Max", 67.3, 1312, 33, weight="normal"))
layers.append(txt("CPD eFluor450", 156.7, 1567, 33))

# F, G titles
layers.append(vtitle("Relative CD8β/α ratio", 725, 1313, 35))
layers.append(vtitle("%OT-I IFNγ+", 1228, 1325.5, 34))

chart = alt.layer(*layers).resolve_scale(x="independent", y="independent").properties(
    width=W, height=H, autosize=alt.AutoSizeParams(type="none"), padding=0, background="white").configure_view(
    strokeWidth=0)

chart.save("out.html", embed_options={"renderer": "svg", "actions": False})
